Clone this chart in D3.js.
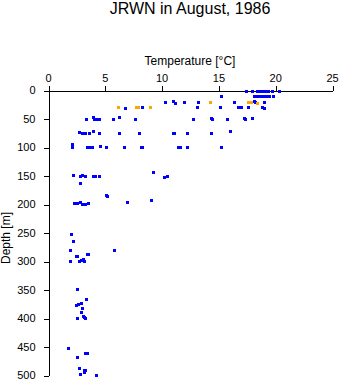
<!DOCTYPE html>
<html><head><meta charset="utf-8">
<script src="https://cdn.jsdelivr.net/npm/d3@7"></script>
<style>
body{margin:0;background:#fff;}
svg{display:block;font-family:"Liberation Sans",Arial,Helvetica,sans-serif;}
</style></head><body>
<svg id="c" width="341" height="384"></svg>
<script>
const titleText = "JRWN in August, 1986";
const xLabel = "Temperature [°C]";
const yLabel = "Depth [m]";
const tempTicks = [0, 5, 10, 15, 20, 25];
const depthTicks = [0, 50, 100, 150, 200, 250, 300, 350, 400, 450, 500];

const blueT = [17.4,17.97,18.41,18.6,18.86,19.13,19.39,19.76,20.35,
  15.19,18.12,18.39,18.65,18.91,19.17,19.44,19.82,
  10.33,11.0,11.15,12.0,13.2,16.4,18.1,18.2,19.0,
  6.8,8.24,13.08,15.13,16.71,16.95,17.6,18.85,19.0,
  3.37,3.92,4.05,4.3,4.5,5.75,6.27,7.7,12.78,14.33,14.47,15.74,17.22,17.38,17.95,
  2.75,3.0,3.15,3.3,3.63,4.0,4.51,6.27,8.03,10.98,11.12,12.25,14.36,16.03,
  2.14,2.14,3.4,3.55,3.7,3.84,4.6,5.13,6.71,8.17,8.31,11.45,11.6,12.25,15.24,
  2.2,2.8,2.98,3.23,3.93,4.13,4.51,9.24,10.2,10.45,2.84,
  5.1,5.22,2.29,2.55,2.81,2.96,3.1,3.23,3.55,6.98,9.03,
  2.05,2.23,1.96,5.83,2.43,2.58,3.43,3.55,1.96,2.73,2.93,3.1,3.2,
  2.58,3.37,2.93,2.45,2.6,3.02,2.93,3.05,3.2,2.52,3.26,
  1.79,3.3,3.43,2.58,2.76,3.17,3.3,3.2,2.84,4.25];
const blueD = [1,1,1,1,1,1,1,1,1,
  11,11,11,11,11,11,11,11,
  21.6,20,22,21,21,20.5,19.5,21.5,20.5,
  31,30,30,30,30,30,30,29,31,
  50,48,51,50,50,50,48,50,50,49,51,50,49,51,49,
  74,75,75,75,75,72,75,75,75,75,76,76,75,72,
  95,100,100,100,100,100,98,100,100,100,100,100,100,100,100,
  149,150,149,150,150,150,150,144,152,150,163.5,
  185,186,197.5,197.5,196,200,200,200,197.5,197,193,
  252,265,280,280,291,292,288,287,300,300,299,297,300,
  349,367,373,377,376,383,390,396,398,400,400,
  453,461,461.5,468,488,491,491,495,498,500];
const orangeT = [6.18,7.72,7.95,8.97,14.27,17.6,17.85,18.42];
const orangeD = [30,30,30,30,20.5,21,21,22];

const svg = d3.select("#c");
const x = d3.scaleLinear().domain([0, 25]).range([48, 332]);
const y = d3.scaleLinear().domain([0, 500]).range([90, 375]);

svg.append("text").attr("x", 190).attr("y", 14).attr("text-anchor", "middle")
  .attr("font-size", 16).text(titleText);
svg.append("text").attr("x", 190).attr("y", 64.5).attr("text-anchor", "middle")
  .attr("font-size", 12).text(xLabel);
svg.append("text").attr("transform", "translate(10,238) rotate(-90)").attr("text-anchor", "middle")
  .attr("font-size", 12).text(yLabel);

const gx = svg.append("g").attr("transform", "translate(0,90.5)")
  .call(d3.axisTop(x).tickValues(tempTicks).tickSizeInner(5).tickSizeOuter(0).tickPadding(4));
const gy = svg.append("g").attr("transform", "translate(48.5,0)")
  .call(d3.axisLeft(y).tickValues(depthTicks).tickSizeInner(5).tickSizeOuter(0).tickPadding(8));
[gx, gy].forEach(g => {
  g.selectAll("text").attr("font-size", 11).attr("fill", "#000").attr("font-family", null);
  g.selectAll("line,path").attr("stroke", "#000").attr("shape-rendering", "crispEdges");
  g.attr("font-family", null);
});
gx.selectAll(".tick line").attr("transform", "translate(0.5,0)");
gy.selectAll(".tick line").attr("transform", "translate(0,0.5)");

const plot = svg.append("g");
function pts(T, D, color) {
  plot.selectAll(null).data(d3.range(T.length)).join("rect")
    .attr("x", i => Math.round(x(T[i])) - 1)
    .attr("y", i => Math.round(y(D[i])) - 1)
    .attr("width", 3).attr("height", 3)
    .attr("fill", color).attr("shape-rendering", "crispEdges");
}
pts(blueT, blueD, "#0000ff");
pts(orangeT, orangeD, "#ffa500");
</script>
</body></html>
